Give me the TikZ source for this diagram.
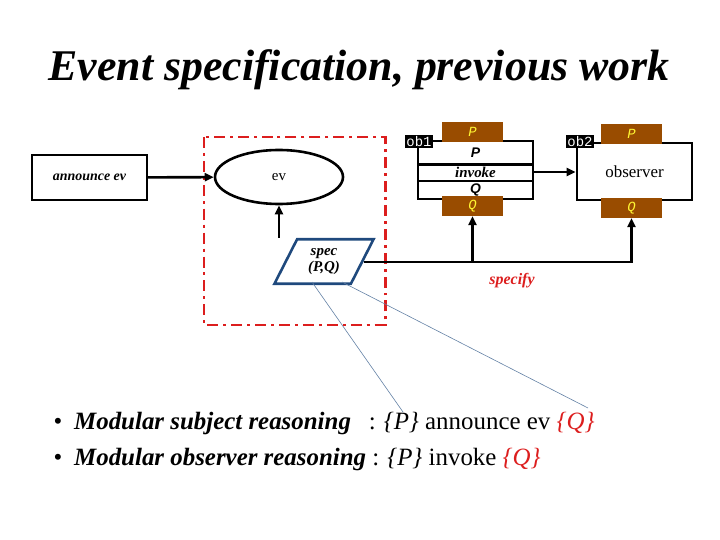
\documentclass[tikz,border=0pt]{standalone}
\usepackage{fontspec}
\setmainfont{Liberation Serif}
\newfontfamily\sansfnt{Liberation Sans}
\newfontfamily\monofnt{Liberation Mono}
\usetikzlibrary{shapes.geometric,arrows.meta}
\definecolor{tabbrown}{RGB}{153,76,0}
\definecolor{specblue}{RGB}{31,73,125}
\definecolor{dashred}{RGB}{220,30,30}
\begin{document}
\begin{tikzpicture}[x=1bp,y=-1bp,
  box/.style={draw,line width=2.6pt,inner sep=0pt},
  tab/.style={fill=tabbrown,text=yellow!80!white,minimum width=61bp,minimum height=20bp,inner sep=0pt,font=\monofnt\itshape\fontsize{14}{14}\selectfont},
  tag/.style={fill=black,text=white,inner sep=1.5pt,font=\monofnt\fontsize{14}{14}\selectfont},
  conn/.style={line width=2.6pt,-{Triangle[length=9pt,width=8pt]}}]
\useasboundingbox (0,0) rectangle (720,540);
\node (title) at (359,70) {\fontsize{44}{44}\selectfont\bfseries\itshape Event specification, previous work};
% left part
\node (ann) [box,line width=1.8pt,minimum width=115bp,minimum height=45bp] at (89.5,177.5) {\fontsize{14}{14}\selectfont\bfseries\itshape announce ev};
\node (ev) [box,ellipse,minimum width=128bp,minimum height=54bp] at (279,177) {\fontsize{15}{15}\selectfont ev};
\draw[dashred,line width=3pt,dash pattern=on 11pt off 5pt on 3pt off 5pt] (204,137) rectangle (385,325);
\node (spec) [draw=specblue,line width=2.6pt,trapezium,trapezium left angle=63,trapezium right angle=117,minimum width=100bp,minimum height=43bp,inner sep=0pt,align=center,font=\fontsize{15}{16}\selectfont\bfseries\itshape] at (324,261.5) {spec\\(P,Q)};
\draw[conn] (ann) -- (ev);
\draw[conn] (spec.north -| ev.south) -- (ev.south);
% objects
\node (ob1) [box,minimum width=115bp,minimum height=58bp] at (475.5,170) {};
\draw[line width=2.6pt] (418,164.5) -- (533,164.5) (418,181) -- (533,181);
\node (pre1) at (475.5,153) {\sansfnt\bfseries\itshape\fontsize{14}{14}\selectfont P};
\node (inv1) at (475.5,172.5) {\bfseries\itshape\fontsize{15}{15}\selectfont invoke};
\node (post1) at (475.5,190) {\sansfnt\bfseries\itshape\fontsize{14}{14}\selectfont Q};
\node (p1) [tab] at (472.5,132) {P};
\node (q1) [tab] at (472.5,206) {Q};
\node (t1) [tag] at (419,141.5) {ob1};
\node (ob2) [box,minimum width=115bp,minimum height=57bp,font=\fontsize{17}{17}\selectfont] at (634.5,171.5) {observer};
\node (p2) [tab] at (631.5,134) {P};
\node (q2) [tab] at (631.5,208) {Q};
\node (t2) [tag] at (580,141.5) {ob2};
\draw[conn] (ob1.east |- 0,172) -- (ob2.west |- 0,172);
\coordinate (jn) at (q1.south |- 0,262);
\draw[line width=2.6pt] (spec.east |- 0,262) -- (jn);
\draw[conn] (jn) -- (q1.south);
\draw[conn] (jn) -| (q2.south);
\node (specify) [text=dashred] at (512,281) {\fontsize{16}{16}\selectfont\bfseries\itshape specify};
% bullets
\node (b1) [anchor=base west] at (50,429) {\fontsize{25}{25}\selectfont\textbullet\hspace{12pt}\textbf{\textit{Modular subject reasoning}}\hspace{18pt}:\hspace{8pt}\textit{\{P\}} announce ev \textcolor{dashred}{\textit{\{Q\}}}};
\node (b2) [anchor=base west] at (50,465) {\fontsize{25}{25}\selectfont\textbullet\hspace{12pt}\textbf{\textit{Modular observer reasoning}} :\hspace{8pt}\textit{\{P\}} invoke \textcolor{dashred}{\textit{\{Q\}}}};
\coordinate (endP) at (403,412);
\coordinate (endQ) at (588,408);
\draw[specblue!70,line width=0.6pt] (312,282) -- (endP);
\draw[specblue!70,line width=0.6pt] (342,282) -- (endQ);
\end{tikzpicture}
\end{document}
